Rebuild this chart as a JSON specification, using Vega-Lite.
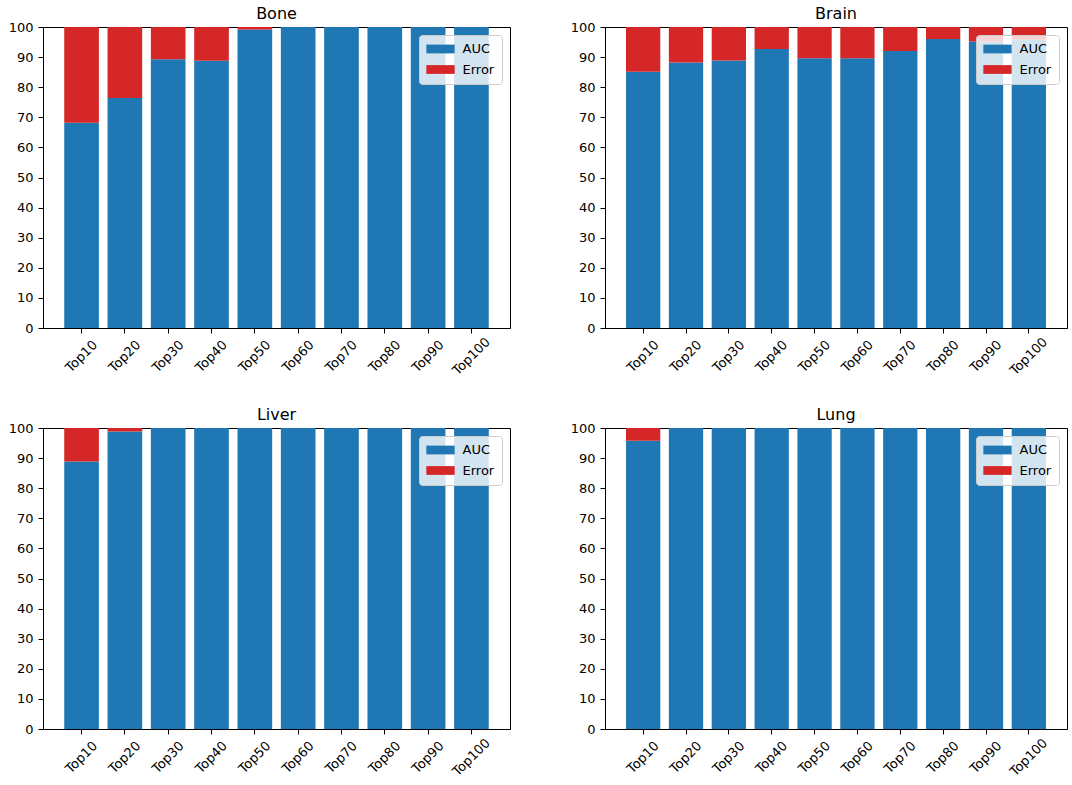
{
  "$schema": "https://vega.github.io/schema/vega-lite/v6.json",
  "padding": {"left": 7, "top": 5, "right": 5, "bottom": 5},
  "background": "white",
  "data": {
    "values": [
      {"organ": "Bone", "top": "Top10", "metric": "AUC", "value": 68.2},
      {"organ": "Bone", "top": "Top10", "metric": "Error", "value": 31.8},
      {"organ": "Bone", "top": "Top20", "metric": "AUC", "value": 76.4},
      {"organ": "Bone", "top": "Top20", "metric": "Error", "value": 23.6},
      {"organ": "Bone", "top": "Top30", "metric": "AUC", "value": 89.3},
      {"organ": "Bone", "top": "Top30", "metric": "Error", "value": 10.7},
      {"organ": "Bone", "top": "Top40", "metric": "AUC", "value": 88.8},
      {"organ": "Bone", "top": "Top40", "metric": "Error", "value": 11.2},
      {"organ": "Bone", "top": "Top50", "metric": "AUC", "value": 99.2},
      {"organ": "Bone", "top": "Top50", "metric": "Error", "value": 0.8},
      {"organ": "Bone", "top": "Top60", "metric": "AUC", "value": 100},
      {"organ": "Bone", "top": "Top70", "metric": "AUC", "value": 100},
      {"organ": "Bone", "top": "Top80", "metric": "AUC", "value": 100},
      {"organ": "Bone", "top": "Top90", "metric": "AUC", "value": 100},
      {"organ": "Bone", "top": "Top100", "metric": "AUC", "value": 100},
      {"organ": "Brain", "top": "Top10", "metric": "AUC", "value": 85.1},
      {"organ": "Brain", "top": "Top10", "metric": "Error", "value": 14.9},
      {"organ": "Brain", "top": "Top20", "metric": "AUC", "value": 88.2},
      {"organ": "Brain", "top": "Top20", "metric": "Error", "value": 11.8},
      {"organ": "Brain", "top": "Top30", "metric": "AUC", "value": 88.9},
      {"organ": "Brain", "top": "Top30", "metric": "Error", "value": 11.1},
      {"organ": "Brain", "top": "Top40", "metric": "AUC", "value": 92.7},
      {"organ": "Brain", "top": "Top40", "metric": "Error", "value": 7.3},
      {"organ": "Brain", "top": "Top50", "metric": "AUC", "value": 89.6},
      {"organ": "Brain", "top": "Top50", "metric": "Error", "value": 10.4},
      {"organ": "Brain", "top": "Top60", "metric": "AUC", "value": 89.6},
      {"organ": "Brain", "top": "Top60", "metric": "Error", "value": 10.4},
      {"organ": "Brain", "top": "Top70", "metric": "AUC", "value": 92.0},
      {"organ": "Brain", "top": "Top70", "metric": "Error", "value": 8.0},
      {"organ": "Brain", "top": "Top80", "metric": "AUC", "value": 96.0},
      {"organ": "Brain", "top": "Top80", "metric": "Error", "value": 4.0},
      {"organ": "Brain", "top": "Top90", "metric": "AUC", "value": 95.2},
      {"organ": "Brain", "top": "Top90", "metric": "Error", "value": 4.8},
      {"organ": "Brain", "top": "Top100", "metric": "AUC", "value": 95.8},
      {"organ": "Brain", "top": "Top100", "metric": "Error", "value": 4.2},
      {"organ": "Liver", "top": "Top10", "metric": "AUC", "value": 88.9},
      {"organ": "Liver", "top": "Top10", "metric": "Error", "value": 11.1},
      {"organ": "Liver", "top": "Top20", "metric": "AUC", "value": 98.8},
      {"organ": "Liver", "top": "Top20", "metric": "Error", "value": 1.2},
      {"organ": "Liver", "top": "Top30", "metric": "AUC", "value": 100},
      {"organ": "Liver", "top": "Top40", "metric": "AUC", "value": 100},
      {"organ": "Liver", "top": "Top50", "metric": "AUC", "value": 100},
      {"organ": "Liver", "top": "Top60", "metric": "AUC", "value": 100},
      {"organ": "Liver", "top": "Top70", "metric": "AUC", "value": 100},
      {"organ": "Liver", "top": "Top80", "metric": "AUC", "value": 100},
      {"organ": "Liver", "top": "Top90", "metric": "AUC", "value": 100},
      {"organ": "Liver", "top": "Top100", "metric": "AUC", "value": 100},
      {"organ": "Lung", "top": "Top10", "metric": "AUC", "value": 95.8},
      {"organ": "Lung", "top": "Top10", "metric": "Error", "value": 4.2},
      {"organ": "Lung", "top": "Top20", "metric": "AUC", "value": 100},
      {"organ": "Lung", "top": "Top30", "metric": "AUC", "value": 100},
      {"organ": "Lung", "top": "Top40", "metric": "AUC", "value": 100},
      {"organ": "Lung", "top": "Top50", "metric": "AUC", "value": 100},
      {"organ": "Lung", "top": "Top60", "metric": "AUC", "value": 100},
      {"organ": "Lung", "top": "Top70", "metric": "AUC", "value": 100},
      {"organ": "Lung", "top": "Top80", "metric": "AUC", "value": 100},
      {"organ": "Lung", "top": "Top90", "metric": "AUC", "value": 100},
      {"organ": "Lung", "top": "Top100", "metric": "AUC", "value": 100}
    ]
  },
  "columns": 2,
  "spacing": {"column": 58, "row": 28},
  "concat": [
    {
      "title": "Bone",
      "width": 467,
      "height": 301,
      "transform": [{"filter": "datum.organ == 'Bone'"}],
      "mark": {"type": "bar"},
      "encoding": {
        "x": {"field": "top", "type": "nominal", "sort": ["Top10", "Top20", "Top30", "Top40", "Top50", "Top60", "Top70", "Top80", "Top90", "Top100"], "title": null},
        "y": {"field": "value", "type": "quantitative", "stack": "zero", "title": null},
        "color": {"field": "metric", "type": "nominal"},
        "order": {"field": "metric", "sort": "ascending"}
      }
    },
    {
      "title": "Brain",
      "width": 462,
      "height": 301,
      "transform": [{"filter": "datum.organ == 'Brain'"}],
      "mark": {"type": "bar"},
      "encoding": {
        "x": {"field": "top", "type": "nominal", "sort": ["Top10", "Top20", "Top30", "Top40", "Top50", "Top60", "Top70", "Top80", "Top90", "Top100"], "title": null},
        "y": {"field": "value", "type": "quantitative", "stack": "zero", "title": null},
        "color": {"field": "metric", "type": "nominal"},
        "order": {"field": "metric", "sort": "ascending"}
      }
    },
    {
      "title": "Liver",
      "width": 467,
      "height": 301,
      "transform": [{"filter": "datum.organ == 'Liver'"}],
      "mark": {"type": "bar"},
      "encoding": {
        "x": {"field": "top", "type": "nominal", "sort": ["Top10", "Top20", "Top30", "Top40", "Top50", "Top60", "Top70", "Top80", "Top90", "Top100"], "title": null},
        "y": {"field": "value", "type": "quantitative", "stack": "zero", "title": null},
        "color": {"field": "metric", "type": "nominal"},
        "order": {"field": "metric", "sort": "ascending"}
      }
    },
    {
      "title": "Lung",
      "width": 462,
      "height": 301,
      "transform": [{"filter": "datum.organ == 'Lung'"}],
      "mark": {"type": "bar"},
      "encoding": {
        "x": {"field": "top", "type": "nominal", "sort": ["Top10", "Top20", "Top30", "Top40", "Top50", "Top60", "Top70", "Top80", "Top90", "Top100"], "title": null},
        "y": {"field": "value", "type": "quantitative", "stack": "zero", "title": null},
        "color": {"field": "metric", "type": "nominal"},
        "order": {"field": "metric", "sort": "ascending"}
      }
    }
  ],
  "resolve": {
    "scale": {"color": "independent"},
    "legend": {"color": "independent"}
  },
  "config": {
    "font": "DejaVu Sans",
    "view": {"stroke": "#000000", "strokeWidth": 1},
    "bar": {"stroke": null},
    "range": {"category": ["#1f77b4", "#d62728"]},
    "scale": {"bandPaddingInner": 0.2, "bandPaddingOuter": 0.49},
    "axis": {
      "grid": false,
      "domainColor": "#000000",
      "tickColor": "#000000",
      "labelColor": "#000000",
      "labelFontSize": 13,
      "tickSize": 5,
      "labelPadding": 5
    },
    "axisX": {"labelAngle": -45, "labelAlign": "center", "labelBaseline": "middle", "labelPadding": 23},
    "axisY": {"values": [0, 10, 20, 30, 40, 50, 60, 70, 80, 90, 100], "labelFlush": false},
    "title": {"fontSize": 16, "fontWeight": "normal", "color": "#000000", "offset": 3, "dy": 4},
    "legend": {
      "orient": "top-right",
      "offset": 8,
      "title": null,
      "fillColor": "rgba(255,255,255,0.8)",
      "strokeColor": "#cccccc",
      "cornerRadius": 3,
      "padding": 7,
      "labelFontSize": 13,
      "labelColor": "#000000",
      "symbolType": "M-2.1,-0.65H2.1V0.65H-2.1Z",
      "symbolSize": 182,
      "symbolStrokeWidth": 0,
      "symbolOpacity": 1,
      "symbolOffset": 7.5,
      "labelOffset": 15,
      "rowPadding": 6.5
    }
  }
}
